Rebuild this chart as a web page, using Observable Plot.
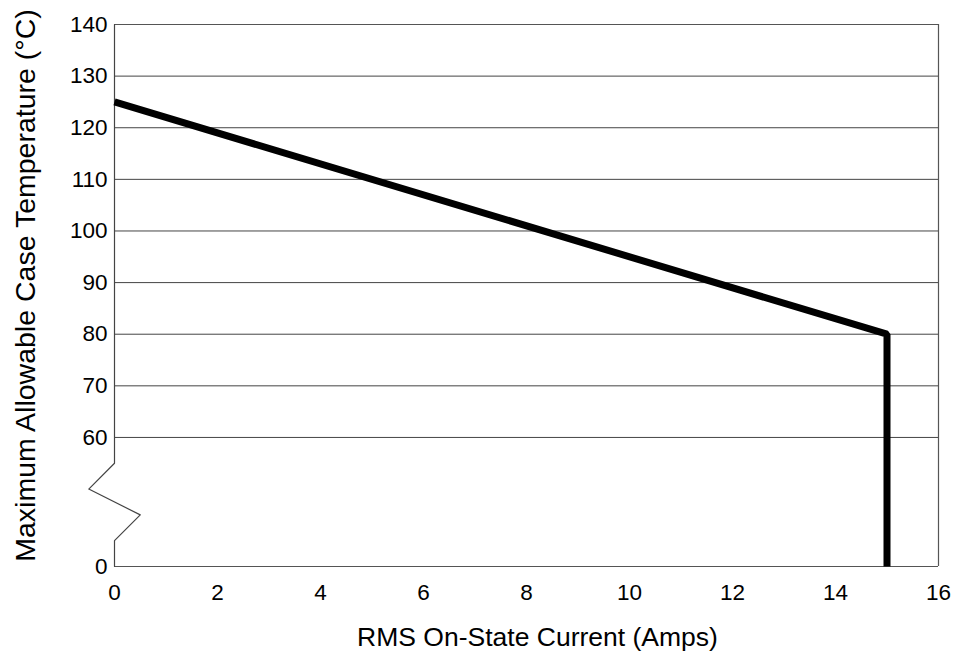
<!DOCTYPE html>
<html>
<head>
<meta charset="utf-8">
<script src="https://cdn.jsdelivr.net/npm/d3@7"></script>
<script src="https://cdn.jsdelivr.net/npm/@observablehq/plot@0.6"></script>
<style>
  html, body { margin: 0; padding: 0; background: #fff; }
  #chart svg { display: block; font-family: "Liberation Sans", Arial, sans-serif; }
</style>
</head>
<body>
<div id="chart"></div>
<script>
// Derating curve data
const currentAmps = [0, 15, 15];
const caseTempC = [125, 80, 0];

// Axis ticks
const xTicks = [0, 2, 4, 6, 8, 10, 12, 14, 16];
const yTickValues = [0, 60, 70, 80, 90, 100, 110, 120, 130, 140];
const gridTemps = [60, 70, 80, 90, 100, 110, 120, 130];

// Axis titles
const xTitle = "RMS On-State Current (Amps)";
const yTitle = "Maximum Allowable Case Temperature (°C)";

// Broken axis: values below the break are drawn at this scale position
const breakPos = 35;
const mapY = t => (t >= 60 ? t : breakPos);

// Zigzag of the broken axis (scale units)
const zigX = [0, 0, -0.5, 0.5, 0, 0];
const zigY = [140, 55, 50, 45, 40, breakPos];

const curve = currentAmps.map((a, i) => ({ a, t: mapY(caseTempC[i]) }));
const zig = zigX.map((x, i) => ({ x, y: zigY[i] }));

const chart = Plot.plot({
  width: 956,
  height: 664,
  marginLeft: 114,
  marginRight: 18,
  marginTop: 24,
  marginBottom: 98,
  style: { fontFamily: "Liberation Sans, Arial, sans-serif", fontSize: "22px", color: "#000", background: "#fff" },
  x: { domain: [0, 16] },
  y: { domain: [breakPos, 140] },
  marks: [
    Plot.ruleY(gridTemps, { stroke: "#444", strokeWidth: 1, strokeOpacity: 1 }),
    Plot.ruleY([140, breakPos], { stroke: "#555", strokeWidth: 1.2, strokeOpacity: 1 }),
    Plot.ruleX([16], { stroke: "#555", strokeWidth: 1.2, strokeOpacity: 1 }),
    Plot.line(zig, { x: "x", y: "y", stroke: "#444", strokeWidth: 1.2, clip: false }),
    Plot.axisX({ ticks: xTicks, tickSize: 0, tickPadding: 18, fontSize: 22.5, label: null }),
    Plot.axisY({ ticks: yTickValues.map(mapY), tickSize: 0, tickPadding: 7, fontSize: 22.5,
      tickFormat: d => (d === breakPos ? "0" : String(d)), label: null }),
    Plot.text([xTitle], { text: d => d, frameAnchor: "bottom", dy: 79, dx: 11, fontSize: 26.5, fill: "#000" }),
    Plot.text([yTitle], { text: d => d, frameAnchor: "left", rotate: -90, textAnchor: "middle", dx: -89, dy: -10, fontSize: 28.5, fill: "#000" }),
    Plot.line(curve, { x: "a", y: "t", stroke: "#000", strokeWidth: 7, strokeLinejoin: "miter", strokeLinecap: "butt" })
  ]
});
document.getElementById("chart").appendChild(chart);
</script>
</body>
</html>
